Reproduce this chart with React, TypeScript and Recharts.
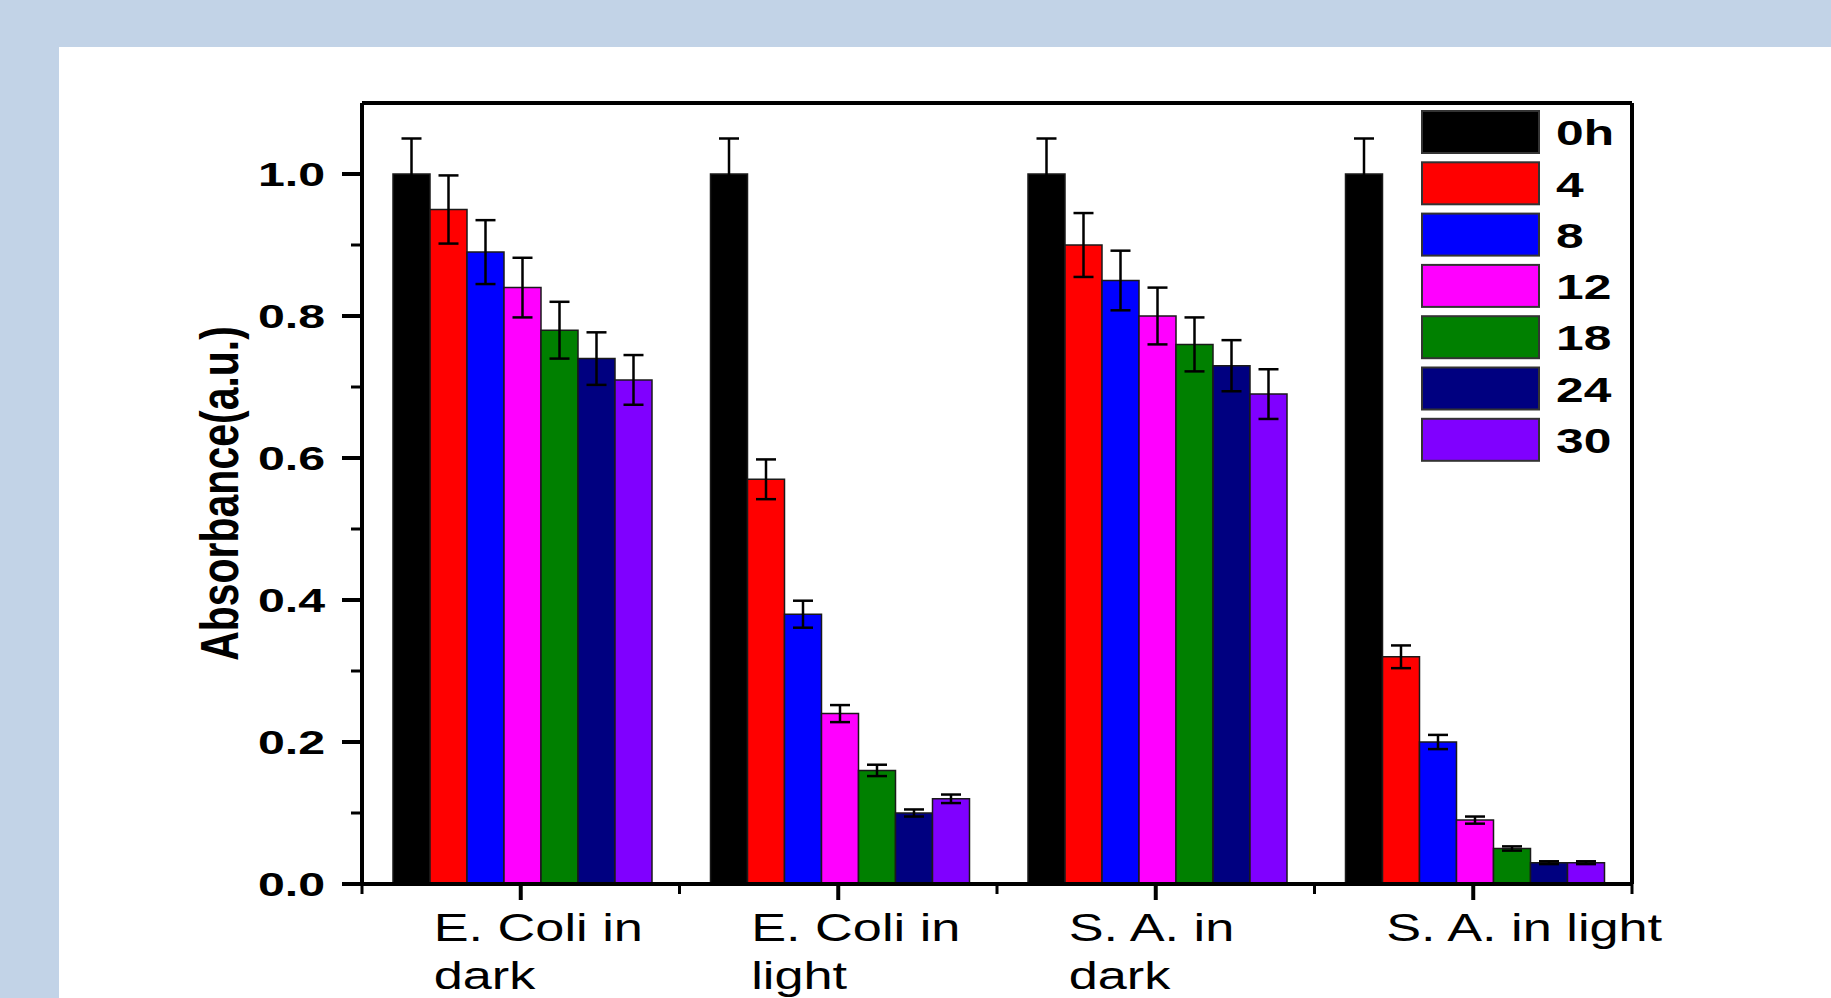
import React from "react";
import { Bar, BarChart, ErrorBar, Legend, XAxis, YAxis } from "recharts";

// group labels (line break where the original wraps)
const categories = ["E. Coli in\ndark", "E. Coli in\nlight", "S. A. in\ndark", "S. A. in light"];
const seriesNames = ["0h", "4", "8", "12", "18", "24", "30"];

// absorbance per time point, one value per group
const h0 = [1.0, 1.0, 1.0, 1.0];
const h4 = [0.95, 0.57, 0.9, 0.32];
const h8 = [0.89, 0.38, 0.85, 0.2];
const h12 = [0.84, 0.24, 0.8, 0.09];
const h18 = [0.78, 0.16, 0.76, 0.05];
const h24 = [0.74, 0.1, 0.73, 0.03];
const h30 = [0.71, 0.12, 0.69, 0.03];

// error bar half-heights
const e0 = [0.05, 0.05, 0.05, 0.05];
const e4 = [0.048, 0.028, 0.045, 0.016];
const e8 = [0.045, 0.019, 0.042, 0.01];
const e12 = [0.042, 0.012, 0.04, 0.005];
const e18 = [0.04, 0.008, 0.038, 0.003];
const e24 = [0.037, 0.005, 0.036, 0.002];
const e30 = [0.035, 0.006, 0.035, 0.002];

const yTicks = [0, 0.1, 0.2, 0.3, 0.4, 0.5, 0.6, 0.7, 0.8, 0.9, 1.0];

const colors = ["#000000", "#ff0000", "#0000ff", "#ff00ff", "#008000", "#000080", "#8000ff"];

const values = [h0, h4, h8, h12, h18, h24, h30];
const errors = [e0, e4, e8, e12, e18, e24, e30];

const rows = categories.map((name, i) => {
  const row: Record<string, string | number> = { name };
  values.forEach((v, s) => {
    row["s" + s] = v[i];
    row["e" + s] = errors[s][i];
  });
  return row;
});

const FONT = "'Liberation Sans', Arial, sans-serif";

const YTick = (props: any) => {
  const { x, y, payload } = props;
  const v = payload.value as number;
  const major = Math.round(v * 10) % 2 === 0;
  return (
    <g>
      <line x1={x - (major ? 20 : 11)} x2={x} y1={y} y2={y} stroke="#000" strokeWidth={major ? 4 : 3} />
      {major && (
        <g transform={`translate(${x - 37},${y}) scale(1.42,1)`}>
          <text x={0} y={0} textAnchor="end" dominantBaseline="central" fontFamily={FONT} fontSize={34} fontWeight="bold" fill="#000">
            {v.toFixed(1)}
          </text>
        </g>
      )}
    </g>
  );
};

const XTick = (props: any) => {
  const { x, y, payload } = props;
  const half = payload.offset || 0;
  const lines = String(payload.value).split("\n");
  const last = payload.value === categories[categories.length - 1];
  return (
    <g>
      <line x1={x} x2={x} y1={y} y2={y + 16} stroke="#000" strokeWidth={4} />
      <line x1={x - half} x2={x - half} y1={y} y2={y + 10} stroke="#000" strokeWidth={3} />
      {last && <line x1={x + half} x2={x + half} y1={y} y2={y + 10} stroke="#000" strokeWidth={3} />}
      <g transform={`translate(${x - 87},${y}) scale(1.34,1)`}>
        {lines.map((l, i) => (
          <text key={i} x={0} y={57 + 48 * i} fontFamily={FONT} fontSize={39} fill="#000">
            {l}
          </text>
        ))}
      </g>
    </g>
  );
};

const YLabel = (props: any) => {
  const vb = props.viewBox || { x: 361, y: 103, width: 1, height: 781 };
  const ax = vb.x + (vb.width || 0);
  return (
    <g transform={`translate(${ax - 142},${vb.y + vb.height / 2}) scale(1.3,1) rotate(-90)`}>
      <text x={0} y={0} textAnchor="middle" dominantBaseline="central" fontFamily={FONT} fontSize={41} fontWeight="bold" fill="#000">
        Absorbance(a.u.)
      </text>
    </g>
  );
};

const LegendBox = (props: any) => {
  const payload = [...(props.payload || [])].sort(
    (a: any, b: any) => seriesNames.indexOf(a.value) - seriesNames.indexOf(b.value)
  );
  return (
    <svg width={240} height={365} style={{ display: "block" }}>
      {payload.map((p: any, i: number) => (
        <g key={i} transform={`translate(0,${i * 51.3})`}>
          <rect x={1} y={1} width={117} height={42} fill={p.color} stroke="#333" strokeWidth={2} />
          <g transform="translate(135,23) scale(1.42,1)">
            <text x={0} y={0} dominantBaseline="central" fontFamily={FONT} fontSize={35} fontWeight="bold" fill="#000">
              {p.value}
            </text>
          </g>
        </g>
      ))}
    </svg>
  );
};

export default function App() {
  return (
    <div style={{ position: "absolute", left: 0, top: 0, width: 1831, height: 998, background: "#c2d3e7", overflow: "hidden" }}>
      <div style={{ position: "absolute", left: 59, top: 47, right: 0, bottom: 0, background: "#ffffff" }} />
      <div style={{ position: "absolute", left: 0, top: 0 }}>
        <BarChart
          width={1831}
          height={998}
          data={rows}
          margin={{ top: 102, right: 198, bottom: 113, left: 361 }}
          barCategoryGap={31}
          barGap={0}
        >
          <XAxis
            dataKey="name"
            height={1}
            interval={0}
            tickSize={0}
            tickMargin={0}
            tickLine={false}
            axisLine={{ stroke: "#000", strokeWidth: 4 }}
            tick={<XTick />}
          />
          <XAxis xAxisId="top" orientation="top" dataKey="name" height={1} tick={false} tickLine={false} axisLine={{ stroke: "#000", strokeWidth: 4 }} />
          <YAxis
            domain={[0, 1.1]}
            ticks={yTicks}
            interval={0}
            width={1}
            tickSize={0}
            tickMargin={0}
            tickLine={false}
            allowDataOverflow
            axisLine={{ stroke: "#000", strokeWidth: 4 }}
            tick={<YTick />}
            label={{ content: <YLabel /> }}
          />
          <YAxis yAxisId="right" orientation="right" domain={[0, 1.1]} width={1} tick={false} tickLine={false} axisLine={{ stroke: "#000", strokeWidth: 4 }} />
          <Legend
            layout="vertical"
            align="center"
            verticalAlign="middle"
            content={<LegendBox />}
            wrapperStyle={{ position: "absolute", left: 1421, top: 110, width: 240, height: 365 }}
          />
          {seriesNames.map((n, s) => (
            <Bar key={n} dataKey={"s" + s} name={n} fill={colors[s]} stroke="#1a1a1a" strokeWidth={1.5} isAnimationActive={false}>
              <ErrorBar dataKey={"e" + s} width={10} stroke="#000" strokeWidth={2.5} direction="y" isAnimationActive={false} />
            </Bar>
          ))}
        </BarChart>
      </div>
    </div>
  );
}
